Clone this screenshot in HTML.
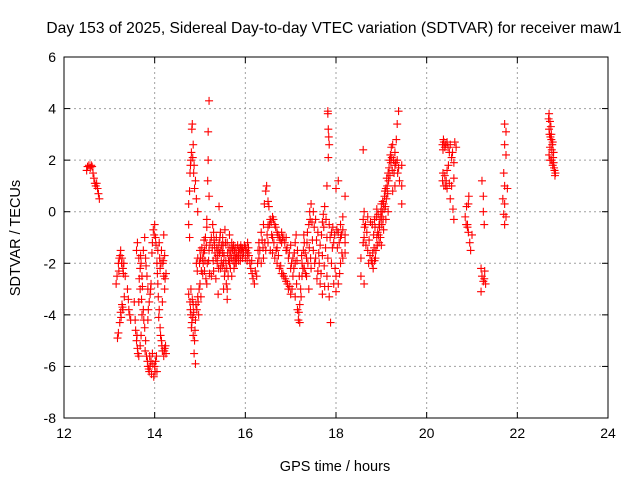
<!DOCTYPE html>
<html><head><meta charset="utf-8"><style>
body{margin:0;background:#fff}
svg{display:block;font-family:"Liberation Sans",sans-serif}
</style></head><body>
<svg id="chart" width="640" height="480" viewBox="0 0 640 480">
<rect width="640" height="480" fill="#fff"/>
<text x="334" y="33" font-size="15.6" text-anchor="middle">Day 153 of 2025, Sidereal Day-to-day VTEC variation (SDTVAR) for receiver maw1</text>
<text x="335" y="471" font-size="14.5" text-anchor="middle">GPS time / hours</text>
<text x="20" y="238" font-size="14.5" text-anchor="middle" transform="rotate(-90 20 238)">SDTVAR / TECUs</text>
<g id="grid"></g>
<g id="axes"></g>
<g id="marks"></g>
<rect x="64" y="57" width="544" height="361" fill="none" stroke="#000" stroke-width="1"/>
</svg>
<script>
const xTicks=[12,14,16,18,20,22,24];
const yTicks=[-8,-6,-4,-2,0,2,4,6];
const points=[
[12.50,1.6],[12.52,1.75],[12.55,1.8],[12.58,1.7],[12.60,1.8],[12.62,1.75],[12.64,1.5],[12.66,1.3],[12.68,1.1],[12.70,1.0],[12.72,1.1],[12.74,0.9],[12.76,0.7],[12.78,0.5],
[13.15,-2.8],[13.17,-2.5],[13.2,-2.0],[13.22,-1.8],[13.25,-1.5],[13.28,-1.8],[13.3,-2.2],[13.32,-2.0],[13.18,-4.9],[13.2,-4.7],[13.23,-4.3],[13.25,-3.9],[13.28,-3.6],[13.3,-3.8],[13.33,-3.3],[13.35,-2.5],[13.4,-3.0],[13.42,-3.4],[13.45,-4.0],
[13.55,-3.5],[13.57,-4.2],[13.6,-5.0],[13.62,-5.3],[13.65,-5.6],[13.68,-5.2],[13.6,-1.5],[13.62,-1.2],[13.65,-1.8],[13.68,-2.2],[13.7,-2.0],[13.72,-2.5],[13.75,-3.8],[13.78,-4.5],[13.8,-5.0],[13.82,-5.6],[13.85,-6.0],[13.88,-6.2],[13.9,-6.0],[13.92,-5.8],[13.75,-1.5],[13.78,-1.0],[13.8,-1.8],[13.83,-2.5],[13.85,-3.0],[13.88,-3.5],[13.9,-3.2],[13.92,-2.8],[13.95,-1.2],[13.97,-0.7],[14.0,-0.5],[14.02,-1.0],[14.05,-2.0],[14.07,-2.8],[14.1,-3.8],[14.12,-4.5],[14.15,-5.0],[14.17,-5.4],[14.2,-5.6],[14.22,-5.3],[14.25,-5.5],[14.15,-1.5],[14.18,-2.0],[14.2,-2.5],[14.22,-3.0],[14.25,-2.4],[14.1,-1.2],[14.05,-6.2],[14.0,-6.0],[13.95,-5.5],[13.98,-6.4],[14.02,-5.8],[13.7,-4.8],[13.72,-4.0],[13.65,-3.5],[13.68,-3.0],[13.85,-4.2],[14.07,-1.5],[14.12,-2.2],[14.2,-0.9],[14.22,-1.7],[14.17,-3.5],
[13.58,-4.6],[13.61,-4.8],[13.63,-5.5],[13.66,-2.6],[13.69,-1.7],[13.71,-3.4],[13.73,-2.9],[13.76,-4.2],[13.79,-5.4],[13.81,-2.1],[13.84,-5.8],[13.86,-3.8],[13.87,-6.1],[13.89,-5.6],[13.91,-3.0],[13.93,-6.3],[13.94,-1.6],[13.96,-5.9],[13.99,-0.9],[14.01,-6.2],[14.03,-1.3],[14.04,-5.6],[14.06,-2.4],[14.08,-3.3],[14.09,-4.1],[14.11,-1.8],[14.13,-4.8],[14.14,-2.0],[14.16,-5.2],[14.19,-1.9],[14.21,-5.4],[14.23,-2.6],[14.24,-5.2],[13.21,-2.3],[13.24,-1.7],[13.26,-4.1],[13.27,-2.0],[13.29,-3.7],[13.31,-2.4],[13.43,-3.8],[13.47,-4.2],
[14.75,0.3],[14.77,0.8],[14.78,1.5],[14.8,2.0],[14.82,3.2],[14.83,3.4],[14.85,2.6],[14.87,1.8],[14.9,1.2],[14.92,0.5],[14.95,0.0],[14.75,-0.5],[14.77,-1.0],[14.75,-3.2],[14.78,-3.5],[14.8,-4.0],[14.82,-4.3],[14.85,-4.8],[14.87,-5.5],[14.9,-5.9],[14.88,-5.0],[14.8,-3.0],[14.85,-3.6],[14.9,-4.2],[14.93,-3.8],[14.95,-3.3],[14.98,-3.0],[15.0,-2.8],[15.02,-3.3],[14.97,-4.0],[14.92,-2.0],[14.95,-1.8],[15.0,-1.5],[15.05,-1.8],[15.07,-2.0],[15.1,-1.5],[15.12,-1.0],[15.15,-0.6],[15.1,-2.3],[15.15,-2.8],[15.2,-1.5],[15.22,-1.2],
[14.79,-3.8],[14.81,-4.5],[14.83,-3.4],[14.84,-4.1],[14.86,-3.9],[14.89,-4.6],[14.91,-3.6],[14.94,-2.3],[14.96,-3.5],[14.99,-2.0],[15.01,-1.8],[15.03,-2.3],[15.04,-1.4],[15.06,-2.4],[15.08,-1.6],[15.09,-1.1],[15.11,-1.9],[15.13,-2.6],[15.14,-1.3],[15.16,-2.0],[15.19,-1.9],[15.21,-2.4],[14.79,1.8],[14.81,2.3],[14.84,2.1],[14.86,1.5],[14.88,0.9],
[15.2,4.3],[15.18,3.1],[15.18,2.0],[15.2,0.6],[15.15,-0.3],[15.17,1.2],
[15.25,-1.0],[15.28,-0.5],[15.3,-0.8],[15.32,-1.3],[15.35,-1.8],[15.38,-2.0],[15.4,-1.5],[15.42,-1.2],[15.45,-0.8],[15.48,-1.3],[15.5,-1.6],[15.52,-2.0],[15.55,-2.3],[15.58,-2.8],[15.6,-3.0],[15.62,-2.5],[15.65,-2.0],[15.68,-1.5],[15.7,-1.2],[15.72,-1.5],[15.75,-1.7],[15.78,-1.8],[15.8,-1.6],[15.85,-1.5],[15.9,-1.7],[15.95,-1.5],[16.0,-1.4],[16.05,-1.6],[16.1,-2.0],[16.15,-2.4],[16.2,-2.8],[16.25,-2.5],[16.3,-1.8],[15.3,-2.3],[15.35,-2.6],[15.45,-2.2],[15.5,-1.0],[15.55,-0.7],[15.6,-1.2],[15.65,-0.9],[15.7,-2.5],[15.75,-2.2],[15.8,-2.0],[15.85,-1.9],[15.9,-1.3],[16.0,-1.8],[16.05,-1.2],[15.4,-3.2],[15.52,-3.0],[15.6,-3.4],[15.42,0.2],[15.25,-2.5],
[15.27,-1.4],[15.29,-1.9],[15.31,-1.1],[15.33,-1.6],[15.36,-1.0],[15.37,-1.4],[15.39,-1.7],[15.41,-2.2],[15.43,-1.6],[15.44,-1.0],[15.46,-1.5],[15.47,-1.9],[15.49,-2.1],[15.51,-1.3],[15.53,-1.7],[15.54,-2.5],[15.56,-1.2],[15.57,-1.9],[15.59,-2.2],[15.61,-1.6],[15.63,-1.9],[15.64,-1.4],[15.66,-1.7],[15.67,-2.2],[15.69,-1.8],[15.71,-1.4],[15.73,-1.9],[15.74,-1.3],[15.76,-1.5],[15.77,-2.0],[15.79,-1.4],[15.81,-1.8],[15.83,-1.3],[15.84,-1.7],[15.86,-1.6],[15.88,-1.4],[15.89,-1.9],[15.91,-1.5],[15.93,-1.4],[15.94,-1.8],[15.96,-1.6],[15.98,-1.3],[16.02,-1.5],[16.04,-1.9],[16.07,-1.4],[16.08,-1.7],[16.12,-2.2],[16.14,-1.9],[16.17,-2.6],[16.22,-2.3],[16.27,-2.0],[16.28,-1.5],[16.32,-1.5],
[16.3,-1.2],[16.35,-0.8],[16.4,-0.5],[16.42,0.3],[16.45,0.8],[16.47,1.0],[16.5,0.4],[16.52,0.2],[16.55,-0.3],[16.6,-0.2],[16.65,-0.5],[16.7,-0.8],[16.75,-1.0],[16.8,-1.2],[16.85,-1.0],[16.9,-1.5],[16.95,-1.8],[17.0,-2.2],[17.05,-2.5],[17.1,-2.0],[16.35,-2.0],[16.4,-1.8],[16.45,-1.5],[16.5,-1.2],[16.55,-1.5],[16.6,-1.6],[16.65,-1.8],[16.7,-2.0],[16.75,-2.2],[16.8,-2.4],[16.85,-2.5],[16.9,-2.7],[16.95,-3.0],[17.0,-3.2],[16.5,-0.6],[16.6,-1.0],[16.7,-1.4],[16.8,-0.8],[16.9,-1.0],[17.0,-1.3],[17.05,-1.8],[17.1,-1.2],[17.1,-3.3],[17.15,-3.8],[17.17,-4.2],[17.2,-3.6],[17.22,-3.0],[17.25,-2.5],[17.28,-1.5],[17.3,-1.2],[17.2,-4.3],[17.25,-2.0],[17.15,-1.5],[17.12,-0.9],[17.3,-2.2],[17.35,-1.8],[17.37,-0.8],[17.4,-0.5],[17.42,0.0],[17.45,0.3],[17.5,0.0],[17.55,-0.3],[17.6,-0.8],[17.35,-2.5],[17.4,-3.0],[17.45,-2.2],[17.5,-1.5],[17.55,-1.8],[17.6,-2.3],[17.65,-2.8],[17.7,-3.2],[17.75,-2.9],[17.8,-2.5],[17.85,-3.3],[17.88,-4.3],[17.7,-0.4],[17.72,-0.1],[17.75,0.2],[17.65,-1.3],[17.7,-1.7],[17.8,-1.0],[17.85,-0.5],[17.9,-0.8],[17.95,-1.2],[18.0,-2.5],[18.05,-2.8],[18.1,-2.0],[18.15,-1.8],[18.05,-0.8],[18.1,-0.5],[18.15,-0.7],[17.9,-2.0],[17.95,-2.8],[18.0,-3.1],
[16.37,-1.1],[16.39,-1.4],[16.43,-1.2],[16.48,-0.9],[16.53,-0.5],[16.57,-0.4],[16.58,-0.9],[16.62,-0.3],[16.63,-1.2],[16.67,-0.6],[16.68,-1.5],[16.72,-0.9],[16.73,-1.7],[16.77,-1.1],[16.78,-2.1],[16.82,-1.0],[16.83,-2.4],[16.87,-1.2],[16.88,-2.6],[16.92,-1.4],[16.93,-2.8],[16.97,-1.6],[16.98,-2.9],[17.02,-2.0],[17.03,-3.0],[17.07,-2.2],[17.08,-1.6],[17.13,-2.8],[17.14,-1.9],[17.18,-3.9],[17.19,-2.5],[17.23,-3.3],[17.24,-1.7],[17.27,-2.2],[17.29,-0.9],[17.32,-1.6],[17.33,-2.4],[17.36,-1.2],[17.38,-2.0],[17.41,-1.4],[17.43,-0.3],[17.44,-1.8],[17.47,-0.4],[17.48,-1.1],[17.52,-0.6],[17.53,-2.0],[17.57,-1.1],[17.58,-2.6],[17.62,-1.6],[17.63,-2.0],[17.67,-2.4],[17.68,-0.9],[17.73,-0.6],[17.74,-2.1],[17.77,-1.4],[17.78,-0.3],[17.82,-1.8],[17.83,-2.9],[17.87,-1.0],[17.92,-1.4],[17.93,-0.6],[17.97,-0.9],[17.98,-2.2],[18.02,-0.7],[18.03,-1.4],[18.07,-1.2],[18.08,-2.4],[18.12,-0.9],[18.13,-1.6],
[17.82,3.9],[17.82,3.8],[17.83,3.2],[17.84,2.9],[17.85,2.6],[17.83,2.1],[17.8,1.0],[18.0,0.9],[18.05,1.2],[18.2,0.6],[18.2,-1.2],[18.2,-1.6],[18.15,-0.2],
[18.6,-0.3],[18.62,0.0],[18.65,-0.5],[18.7,-0.2],[18.6,-1.2],[18.62,-1.0],[18.7,-1.5],[18.8,-2.0],[18.82,-2.2],[18.85,-1.9],[18.88,-1.5],[18.9,-1.0],[18.92,-0.8],[18.95,-0.5],[18.97,-0.3],[19.0,-0.2],[19.02,0.0],[19.05,0.3],[19.07,0.6],[19.1,0.9],[19.12,1.3],[19.15,1.5],[19.18,2.0],[19.2,2.2],[19.22,2.5],[19.25,2.6],[19.3,2.3],[18.8,-0.5],[18.85,-0.3],[18.9,0.1],[18.95,-1.2],[19.0,-1.3],[19.05,-0.7],[19.1,-0.3],[19.15,0.0],[19.0,0.3],[18.75,-1.7],[18.72,-2.0],[18.55,-1.8],[18.55,-2.5],[18.62,-2.8],[19.3,1.8],[19.35,2.0],[19.38,1.7],[19.4,1.2],[19.45,1.0],[19.45,0.3],[19.35,3.4],[19.38,3.9],[19.33,2.8],[19.45,1.8],[19.3,1.0],[19.25,0.8],[18.6,2.4],[18.2,-0.9],[18.1,-1.0],
[18.63,-0.6],[18.66,-1.3],[18.68,-0.8],[18.73,-1.1],[18.76,-0.4],[18.78,-1.9],[18.81,-1.6],[18.83,-0.9],[18.84,-1.4],[18.86,-0.6],[18.87,-1.8],[18.89,-0.2],[18.91,-1.3],[18.93,-0.1],[18.94,-0.9],[18.96,-0.6],[18.98,-1.0],[18.99,0.0],[19.01,-0.5],[19.03,0.4],[19.04,-0.3],[19.06,0.1],[19.08,0.8],[19.09,0.2],[19.11,0.5],[19.13,1.0],[19.14,0.7],[19.16,1.2],[19.17,1.7],[19.19,1.4],[19.21,1.9],[19.23,2.1],[19.24,1.6],[19.27,2.0],[19.28,1.5],[19.32,1.9],[19.36,1.5],
[20.35,2.6],[20.37,2.8],[20.4,2.5],[20.45,2.7],[20.5,2.3],[20.55,2.1],[20.6,1.9],[20.65,2.5],[20.35,1.2],[20.38,1.0],[20.4,1.4],[20.45,1.6],[20.5,1.1],[20.55,1.0],[20.6,1.3],[20.48,1.8],[20.52,0.5],[20.58,0.1],[20.6,-0.3],[20.45,0.9],
[20.36,2.4],[20.38,2.7],[20.42,2.6],[20.43,1.2],[20.47,2.5],[20.52,2.6],[20.57,2.3],[20.42,1.0],[20.36,1.5],[20.62,2.7],
[20.85,-0.2],[20.88,0.2],[20.9,-0.5],[20.92,-0.8],[20.95,-1.2],[20.97,-1.5],[21.0,-0.9],[20.87,-0.5],[20.9,-0.6],[20.93,0.6],[20.92,0.3],
[21.22,1.2],[21.25,0.6],[21.25,0.0],[21.27,-0.5],[21.2,-2.2],[21.22,-2.5],[21.25,-2.7],[21.27,-2.6],[21.3,-2.8],[21.2,-3.1],[21.28,-2.3],
[21.72,3.4],[21.75,3.1],[21.72,2.6],[21.75,2.2],[21.7,1.5],[21.72,1.0],[21.78,0.9],[21.72,0.3],[21.7,-0.1],[21.72,-0.5],[21.75,-0.2],[21.68,0.5],
[22.7,3.8],[22.72,3.5],[22.7,3.2],[22.75,3.0],[22.78,2.7],[22.72,2.5],[22.7,2.2],[22.75,2.0],[22.78,1.8],[22.8,2.3],[22.82,1.6],[22.83,1.4],[22.75,2.8],[22.8,1.9],
[22.71,3.0],[22.73,2.9],[22.74,3.3],[22.76,2.4],[22.77,2.6],[22.79,2.1],[22.81,1.7],[22.84,1.5],[22.72,2.0],[22.69,3.6]
];
const NS='http://www.w3.org/2000/svg';
const L=64,R=608,T=57,B=418;
function sx(h){return L+(h-12)/(24-12)*(R-L);}
function sy(v){return B-(v+8)/(6+8)*(B-T);}
function mk(tag,attrs,parent){const e=document.createElementNS(NS,tag);for(const k in attrs)e.setAttribute(k,attrs[k]);parent.appendChild(e);return e;}
const grid=document.getElementById('grid'),axes=document.getElementById('axes'),marks=document.getElementById('marks');
xTicks.forEach(t=>{
  const x=sx(t);
  if(t>12&&t<24){const g=mk('line',{x1:x,x2:x,y1:T,y2:B,stroke:'#a0a0a0','stroke-dasharray':'2,3'},grid);
  
  }
  mk('line',{x1:x,x2:x,y1:B,y2:B-6,stroke:'#000'},axes);
  mk('line',{x1:x,x2:x,y1:T,y2:T+6,stroke:'#000'},axes);
  const tx=mk('text',{x:x,y:B+20,'font-size':14,'text-anchor':'middle'},axes);
  tx.textContent=t;
  
  
});
yTicks.forEach(t=>{
  const y=sy(t);
  if(t>-8&&t<6){const g=mk('line',{x1:L,x2:R,y1:y,y2:y,stroke:'#a0a0a0','stroke-dasharray':'2,3'},grid);
  
  }
  mk('line',{x1:L,x2:L+6,y1:y,y2:y,stroke:'#000'},axes);
  mk('line',{x1:R,x2:R-6,y1:y,y2:y,stroke:'#000'},axes);
  const tx=mk('text',{x:L-8,y:y+5,'font-size':14,'text-anchor':'end'},axes);
  tx.textContent=t;
  
  
});
points.forEach(p=>{
  const x=sx(p[0]),y=sy(p[1]);
  const e=mk('path',{d:`M${x-4} ${y}H${x+4}M${x} ${y-4}V${y+4}`,stroke:'#ff0000','stroke-width':1.1,fill:'none'},marks);
  
  
});
</script>
</body></html>
